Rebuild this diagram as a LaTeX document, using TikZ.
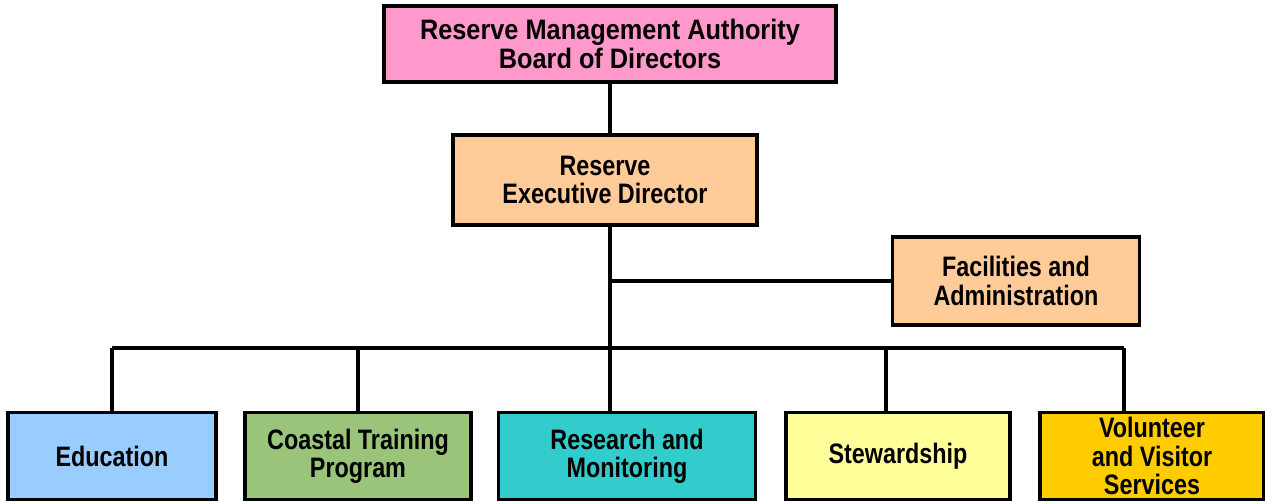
\documentclass[tikz,border=0pt]{standalone}
\usepackage{fontspec}
\setmainfont[FakeStretch=0.83]{Liberation Sans}
\newfontfamily\boardfont[FakeStretch=0.9]{Liberation Sans}
\usepackage{tikz}

\definecolor{boardpink}{HTML}{FF99CC}
\definecolor{peach}{HTML}{FFCC99}
\definecolor{edublue}{HTML}{99CCFF}
\definecolor{ctpgreen}{HTML}{99C47A}
\definecolor{resteal}{HTML}{33CCCC}
\definecolor{stewyellow}{HTML}{FFFF99}
\definecolor{volgold}{HTML}{FFCC00}

\tikzset{
    orgbox/.style={draw=black, line width=1pt, align=center, inner sep=0pt,
        font=\fontsize{8}{8}\selectfont\bfseries},
    link/.style={line width=0.9pt}
}

\begin{document}
\begin{tikzpicture}[x=0.01cm,y=-0.01cm]
    \useasboundingbox (0,0) rectangle (1265,501);

    \node[orgbox,fill=boardpink,minimum width=4.52cm,minimum height=0.76cm,
        font=\boardfont\fontsize{8}{8.5}\selectfont\bfseries] (board) at (610,44) {Reserve Management Authority\\Board of Directors};
    \node[orgbox,fill=peach,minimum width=3.04cm,minimum height=0.9cm] (exec) at (605,180) {Reserve\\Executive Director};
    \node[orgbox,fill=peach,minimum width=2.47cm,minimum height=0.88cm] (facil) at (1016,281) {Facilities and\\Administration};

    \node[orgbox,fill=edublue,minimum width=2.08cm,minimum height=0.87cm] (edu) at (112,456) {Education};
    \node[orgbox,fill=ctpgreen,minimum width=2.26cm,minimum height=0.87cm] (ctp) at (358,456) {Coastal Training\\Program};
    \node[orgbox,fill=resteal,minimum width=2.57cm,minimum height=0.87cm] (res) at (627,456) {Research and\\Monitoring};
    \node[orgbox,fill=stewyellow,minimum width=2.24cm,minimum height=0.87cm] (stew) at (898,456) {Stewardship};
    \node[orgbox,fill=volgold,minimum width=2.24cm,minimum height=0.87cm] (vol) at (1152,456) {Volunteer\\and Visitor\\Services};

    % bus line and drop points
    \coordinate (trunk) at (610,348);
    \coordinate (d1) at (112,348);
    \coordinate (d2) at (358,348);
    \coordinate (d4) at (886,348);
    \coordinate (d5) at (1124,348);

    \draw [link] (board.south -| trunk) -- (exec.north -| trunk);
    \draw [link] (exec.south -| trunk) -- (trunk);
    \draw [link] (facil.west -| trunk) -- (facil.west);
    \draw [link] (d1) -- (d5);

    \draw [link] (d1) -- (edu.north -| d1);
    \draw [link] (d2) -- (ctp.north -| d2);
    \draw [link] (trunk) -- (res.north -| trunk);
    \draw [link] (d4) -- (stew.north -| d4);
    \draw [link] (d5) -- (vol.north -| d5);
\end{tikzpicture}
\end{document}
